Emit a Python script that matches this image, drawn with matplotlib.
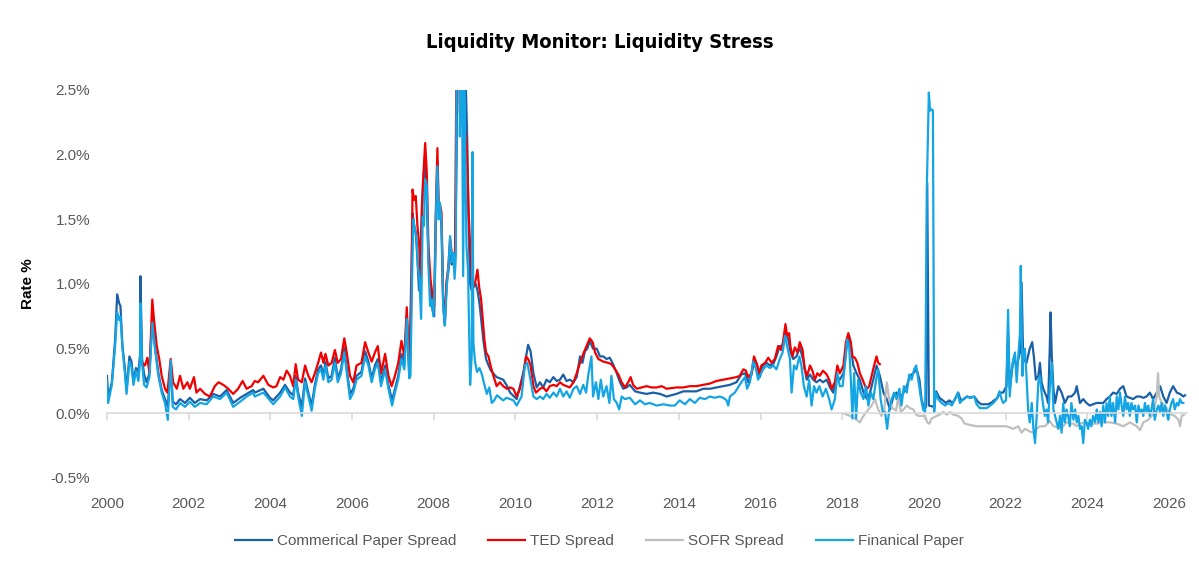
import matplotlib
matplotlib.use("Agg")
import matplotlib.pyplot as plt
from matplotlib import font_manager
import numpy as np

# (decimal year, spread %)
cp = [
    (2000.00, 0.29), (2000.03, 0.12), (2000.12, 0.24), (2000.20, 0.57), (2000.25, 0.92), (2000.30, 0.85),
    (2000.33, 0.83), (2000.38, 0.52), (2000.44, 0.34), (2000.48, 0.18), (2000.55, 0.44), (2000.60, 0.40),
    (2000.65, 0.25), (2000.71, 0.35), (2000.77, 0.32), (2000.81, 0.45), (2000.82, 1.06), (2000.86, 0.42),
    (2000.91, 0.30), (2000.97, 0.24), (2001.04, 0.31), (2001.11, 0.74), (2001.18, 0.50), (2001.26, 0.31),
    (2001.34, 0.18), (2001.42, 0.11), (2001.49, 0.05), (2001.56, 0.40), (2001.61, 0.09), (2001.69, 0.07),
    (2001.79, 0.11), (2001.91, 0.08), (2002.03, 0.12), (2002.15, 0.08), (2002.28, 0.11), (2002.44, 0.10),
    (2002.60, 0.15), (2002.77, 0.13), (2002.93, 0.18), (2003.09, 0.08), (2003.26, 0.12), (2003.42, 0.15),
    (2003.58, 0.18), (2003.62, 0.16), (2003.83, 0.19), (2003.99, 0.12), (2004.07, 0.10), (2004.24, 0.16),
    (2004.36, 0.22), (2004.48, 0.16), (2004.56, 0.14), (2004.62, 0.29), (2004.68, 0.16), (2004.77, 0.05),
    (2004.85, 0.27), (2004.93, 0.16), (2005.01, 0.06), (2005.09, 0.22), (2005.17, 0.34), (2005.24, 0.37),
    (2005.30, 0.29), (2005.35, 0.40), (2005.42, 0.27), (2005.50, 0.29), (2005.58, 0.43), (2005.65, 0.27),
    (2005.73, 0.34), (2005.81, 0.51), (2005.88, 0.32), (2005.95, 0.15), (2006.03, 0.19), (2006.11, 0.29),
    (2006.23, 0.32), (2006.32, 0.48), (2006.40, 0.40), (2006.48, 0.27), (2006.56, 0.37), (2006.63, 0.42),
    (2006.71, 0.24), (2006.81, 0.37), (2006.89, 0.22), (2006.98, 0.10), (2007.05, 0.19), (2007.13, 0.29),
    (2007.21, 0.46), (2007.28, 0.37), (2007.34, 0.76), (2007.40, 0.30), (2007.46, 1.20), (2007.48, 1.55),
    (2007.52, 1.45), (2007.56, 1.40), (2007.60, 1.20), (2007.64, 0.95), (2007.69, 1.40), (2007.73, 1.70),
    (2007.78, 1.98), (2007.82, 1.75), (2007.87, 1.20), (2007.92, 0.95), (2007.97, 0.80), (2008.01, 0.75),
    (2008.05, 1.45), (2008.09, 1.95), (2008.12, 1.55), (2008.16, 1.55), (2008.19, 1.45), (2008.23, 0.85),
    (2008.27, 0.68), (2008.31, 1.00), (2008.36, 1.10), (2008.40, 1.30), (2008.44, 1.15), (2008.48, 1.20),
    (2008.52, 1.10), (2008.56, 2.00), (2008.58, 3.00), (2008.62, 3.50), (2008.66, 2.80), (2008.70, 3.50),
    (2008.74, 3.00), (2008.78, 2.60), (2008.82, 2.10), (2008.85, 1.50), (2008.89, 1.00), (2008.93, 0.95),
    (2008.98, 0.98), (2009.03, 1.00), (2009.07, 0.95), (2009.12, 0.85), (2009.17, 0.70), (2009.22, 0.55),
    (2009.28, 0.42), (2009.33, 0.38), (2009.40, 0.33), (2009.48, 0.30), (2009.54, 0.28), (2009.62, 0.27),
    (2009.70, 0.26), (2009.78, 0.22), (2009.87, 0.16), (2010.03, 0.11), (2010.19, 0.31), (2010.31, 0.53),
    (2010.37, 0.48), (2010.44, 0.31), (2010.52, 0.20), (2010.60, 0.24), (2010.68, 0.20), (2010.76, 0.26),
    (2010.84, 0.24), (2010.93, 0.28), (2011.01, 0.25), (2011.09, 0.26), (2011.17, 0.30), (2011.25, 0.25),
    (2011.33, 0.26), (2011.42, 0.24), (2011.50, 0.28), (2011.58, 0.44), (2011.64, 0.39), (2011.70, 0.48),
    (2011.76, 0.50), (2011.82, 0.56), (2011.90, 0.50), (2011.99, 0.50), (2012.07, 0.44), (2012.15, 0.44),
    (2012.23, 0.42), (2012.31, 0.43), (2012.39, 0.38), (2012.48, 0.31), (2012.56, 0.24), (2012.64, 0.19),
    (2012.72, 0.20), (2012.80, 0.22), (2012.93, 0.17), (2013.05, 0.16), (2013.21, 0.15), (2013.37, 0.16),
    (2013.54, 0.15), (2013.70, 0.13), (2013.94, 0.15), (2014.11, 0.17), (2014.27, 0.17), (2014.43, 0.17),
    (2014.60, 0.19), (2014.76, 0.19), (2014.92, 0.20), (2015.09, 0.21), (2015.25, 0.22), (2015.41, 0.24),
    (2015.53, 0.30), (2015.62, 0.31), (2015.70, 0.24), (2015.78, 0.30), (2015.84, 0.42), (2015.92, 0.37),
    (2015.98, 0.28), (2016.06, 0.37), (2016.15, 0.39), (2016.23, 0.37), (2016.31, 0.38), (2016.39, 0.44),
    (2016.47, 0.52), (2016.55, 0.52), (2016.61, 0.63), (2016.68, 0.57), (2016.73, 0.48), (2016.80, 0.42),
    (2016.88, 0.44), (2016.96, 0.51), (2017.04, 0.42), (2017.13, 0.26), (2017.21, 0.30), (2017.29, 0.26),
    (2017.37, 0.24), (2017.45, 0.26), (2017.53, 0.24), (2017.62, 0.26), (2017.70, 0.20), (2017.78, 0.16),
    (2017.86, 0.29), (2017.94, 0.26), (2018.03, 0.31), (2018.11, 0.52), (2018.16, 0.60), (2018.21, 0.52),
    (2018.27, 0.37), (2018.35, 0.31), (2018.43, 0.26), (2018.52, 0.16), (2018.61, 0.11), (2018.68, 0.16),
    (2018.76, 0.26), (2018.84, 0.37), (2018.92, 0.29), (2019.01, 0.16), (2019.09, 0.11), (2019.17, 0.03),
    (2019.25, 0.13), (2019.33, 0.16), (2019.41, 0.11), (2019.50, 0.16), (2019.58, 0.21), (2019.66, 0.29),
    (2019.74, 0.31), (2019.82, 0.34), (2019.89, 0.26), (2019.94, 0.11), (2020.01, 0.03), (2020.05, 0.05),
    (2020.08, 1.78), (2020.12, 0.06), (2020.25, 0.05), (2020.30, 0.17), (2020.38, 0.12), (2020.46, 0.10),
    (2020.54, 0.08), (2020.62, 0.10), (2020.70, 0.08), (2020.78, 0.12), (2020.84, 0.16), (2020.90, 0.10),
    (2020.98, 0.11), (2021.06, 0.13), (2021.14, 0.12), (2021.23, 0.13), (2021.32, 0.09), (2021.40, 0.07),
    (2021.48, 0.07), (2021.56, 0.07), (2021.64, 0.08), (2021.72, 0.10), (2021.80, 0.12), (2021.86, 0.16),
    (2021.94, 0.16), (2022.02, 0.21), (2022.06, 0.62), (2022.10, 0.19), (2022.19, 0.42), (2022.27, 0.37),
    (2022.35, 0.47), (2022.39, 1.01), (2022.43, 0.42), (2022.51, 0.39), (2022.59, 0.50), (2022.65, 0.55),
    (2022.69, 0.44), (2022.74, 0.26), (2022.80, 0.29), (2022.84, 0.39), (2022.88, 0.24), (2022.92, 0.19),
    (2023.00, 0.13), (2023.04, 0.08), (2023.08, 0.50), (2023.10, 0.78), (2023.13, 0.44), (2023.17, 0.19),
    (2023.21, 0.08), (2023.29, 0.21), (2023.37, 0.16), (2023.45, 0.08), (2023.53, 0.13), (2023.61, 0.13),
    (2023.70, 0.16), (2023.74, 0.21), (2023.82, 0.08), (2023.90, 0.11), (2023.98, 0.08), (2024.06, 0.06),
    (2024.14, 0.07), (2024.23, 0.08), (2024.31, 0.08), (2024.39, 0.08), (2024.47, 0.11), (2024.55, 0.13),
    (2024.63, 0.16), (2024.72, 0.15), (2024.80, 0.19), (2024.88, 0.21), (2024.96, 0.13), (2025.04, 0.12),
    (2025.12, 0.11), (2025.21, 0.13), (2025.29, 0.13), (2025.37, 0.12), (2025.45, 0.13), (2025.53, 0.16),
    (2025.61, 0.11), (2025.70, 0.16), (2025.78, 0.21), (2025.86, 0.13), (2025.94, 0.08), (2026.02, 0.16),
    (2026.10, 0.21), (2026.19, 0.16), (2026.27, 0.15), (2026.35, 0.13), (2026.39, 0.14),
]

ted = [
    (2000.87, 0.39), (2000.93, 0.37), (2000.99, 0.43), (2001.04, 0.31), (2001.11, 0.88), (2001.15, 0.73),
    (2001.22, 0.52), (2001.28, 0.42), (2001.34, 0.29), (2001.42, 0.19), (2001.48, 0.16), (2001.56, 0.42),
    (2001.62, 0.24), (2001.71, 0.19), (2001.79, 0.29), (2001.87, 0.19), (2001.97, 0.24), (2002.03, 0.19),
    (2002.13, 0.28), (2002.19, 0.16), (2002.28, 0.19), (2002.40, 0.15), (2002.52, 0.13), (2002.64, 0.21),
    (2002.73, 0.24), (2002.85, 0.22), (2002.97, 0.19), (2003.09, 0.15), (2003.21, 0.19), (2003.32, 0.25),
    (2003.42, 0.19), (2003.54, 0.21), (2003.62, 0.25), (2003.70, 0.24), (2003.83, 0.29), (2003.95, 0.22),
    (2004.07, 0.20), (2004.15, 0.21), (2004.24, 0.28), (2004.32, 0.26), (2004.40, 0.33), (2004.48, 0.29),
    (2004.56, 0.21), (2004.62, 0.38), (2004.68, 0.26), (2004.77, 0.24), (2004.85, 0.37), (2004.93, 0.29),
    (2005.01, 0.24), (2005.09, 0.31), (2005.17, 0.39), (2005.24, 0.47), (2005.30, 0.39), (2005.35, 0.46),
    (2005.42, 0.37), (2005.50, 0.39), (2005.58, 0.49), (2005.65, 0.39), (2005.73, 0.42), (2005.81, 0.58),
    (2005.87, 0.47), (2005.95, 0.29), (2006.03, 0.24), (2006.11, 0.37), (2006.23, 0.39), (2006.32, 0.55),
    (2006.40, 0.47), (2006.48, 0.40), (2006.56, 0.47), (2006.63, 0.52), (2006.71, 0.31), (2006.81, 0.46),
    (2006.89, 0.29), (2006.97, 0.21), (2007.05, 0.29), (2007.13, 0.39), (2007.21, 0.56), (2007.28, 0.44),
    (2007.34, 0.82), (2007.39, 0.42), (2007.42, 0.39), (2007.46, 1.04), (2007.48, 1.73), (2007.52, 1.65),
    (2007.56, 1.68), (2007.60, 1.45), (2007.64, 1.32), (2007.68, 1.04), (2007.71, 1.60), (2007.74, 1.81),
    (2007.79, 2.09), (2007.83, 1.86), (2007.87, 1.29), (2007.92, 1.04), (2007.97, 0.91), (2008.01, 0.83),
    (2008.05, 1.55), (2008.09, 2.05), (2008.12, 1.60), (2008.15, 1.62), (2008.19, 1.55), (2008.23, 0.91),
    (2008.27, 0.70), (2008.32, 1.04), (2008.36, 1.14), (2008.40, 1.35), (2008.44, 1.24), (2008.48, 1.19),
    (2008.52, 1.24), (2008.56, 2.90), (2008.60, 3.30), (2008.64, 2.32), (2008.68, 3.50), (2008.72, 2.14),
    (2008.76, 2.22), (2008.81, 2.07), (2008.85, 1.60), (2008.89, 1.29), (2008.93, 1.04), (2008.99, 0.98),
    (2009.03, 1.04), (2009.07, 1.11), (2009.11, 0.98), (2009.16, 0.88), (2009.20, 0.73), (2009.24, 0.57),
    (2009.28, 0.47), (2009.34, 0.44), (2009.39, 0.37), (2009.46, 0.29), (2009.54, 0.21), (2009.62, 0.24),
    (2009.70, 0.21), (2009.79, 0.19), (2009.87, 0.20), (2009.95, 0.19), (2010.03, 0.13), (2010.11, 0.19),
    (2010.19, 0.29), (2010.26, 0.44), (2010.31, 0.42), (2010.37, 0.37), (2010.44, 0.21), (2010.50, 0.16),
    (2010.60, 0.19), (2010.68, 0.20), (2010.76, 0.17), (2010.84, 0.21), (2010.93, 0.22), (2011.01, 0.21),
    (2011.09, 0.24), (2011.17, 0.22), (2011.25, 0.21), (2011.33, 0.20), (2011.42, 0.24), (2011.50, 0.31),
    (2011.58, 0.39), (2011.66, 0.46), (2011.74, 0.52), (2011.82, 0.58), (2011.89, 0.55), (2011.95, 0.47),
    (2012.03, 0.42), (2012.15, 0.40), (2012.27, 0.39), (2012.35, 0.38), (2012.44, 0.34), (2012.52, 0.30),
    (2012.60, 0.24), (2012.68, 0.20), (2012.76, 0.24), (2012.82, 0.28), (2012.88, 0.22), (2012.97, 0.19),
    (2013.09, 0.20), (2013.21, 0.21), (2013.33, 0.20), (2013.46, 0.20), (2013.58, 0.21), (2013.70, 0.19),
    (2013.94, 0.20), (2014.11, 0.20), (2014.27, 0.21), (2014.43, 0.21), (2014.60, 0.22), (2014.76, 0.23),
    (2014.92, 0.25), (2015.09, 0.26), (2015.25, 0.27), (2015.41, 0.28), (2015.49, 0.29), (2015.58, 0.34),
    (2015.64, 0.33), (2015.70, 0.28), (2015.78, 0.31), (2015.84, 0.44), (2015.90, 0.39), (2015.97, 0.31),
    (2016.02, 0.37), (2016.11, 0.39), (2016.19, 0.43), (2016.27, 0.39), (2016.35, 0.42), (2016.43, 0.52),
    (2016.50, 0.49), (2016.55, 0.55), (2016.61, 0.69), (2016.65, 0.60), (2016.70, 0.62), (2016.73, 0.52),
    (2016.78, 0.44), (2016.84, 0.51), (2016.91, 0.47), (2016.96, 0.55), (2017.03, 0.49), (2017.08, 0.34),
    (2017.14, 0.29), (2017.21, 0.37), (2017.27, 0.33), (2017.33, 0.26), (2017.39, 0.31), (2017.45, 0.29),
    (2017.53, 0.33), (2017.62, 0.30), (2017.68, 0.26), (2017.74, 0.19), (2017.82, 0.24), (2017.88, 0.37),
    (2017.94, 0.31), (2018.03, 0.37), (2018.09, 0.55), (2018.15, 0.62), (2018.21, 0.55), (2018.25, 0.44),
    (2018.31, 0.43), (2018.37, 0.39), (2018.43, 0.31), (2018.50, 0.26), (2018.56, 0.21), (2018.61, 0.19),
    (2018.66, 0.21), (2018.72, 0.29), (2018.78, 0.37), (2018.84, 0.44), (2018.88, 0.39), (2018.92, 0.38),
]

sofr = [
    (2018.03, 0.00), (2018.19, -0.02), (2018.31, -0.04), (2018.43, -0.07), (2018.52, -0.02), (2018.64, 0.03),
    (2018.72, 0.06), (2018.80, 0.11), (2018.88, 0.03), (2018.96, -0.02), (2019.03, 0.03), (2019.09, 0.24),
    (2019.15, 0.11), (2019.23, 0.04), (2019.32, 0.02), (2019.37, 0.13), (2019.43, 0.01), (2019.50, 0.03),
    (2019.58, 0.06), (2019.66, 0.04), (2019.74, 0.03), (2019.81, -0.01), (2019.87, -0.02), (2019.94, -0.02),
    (2020.03, -0.02), (2020.08, -0.07), (2020.13, -0.08), (2020.19, -0.04), (2020.25, -0.03), (2020.31, -0.02),
    (2020.39, -0.01), (2020.47, 0.01), (2020.56, -0.01), (2020.64, 0.01), (2020.72, -0.01), (2020.84, -0.02),
    (2020.92, -0.04), (2021.00, -0.08), (2021.13, -0.09), (2021.29, -0.10), (2021.45, -0.10), (2021.62, -0.10),
    (2021.78, -0.10), (2021.86, -0.10), (2022.02, -0.10), (2022.19, -0.12), (2022.31, -0.10), (2022.39, -0.15),
    (2022.47, -0.12), (2022.59, -0.14), (2022.68, -0.15), (2022.76, -0.12), (2022.84, -0.10), (2022.96, -0.10),
    (2023.08, -0.06), (2023.17, -0.10), (2023.29, -0.11), (2023.41, -0.10), (2023.49, -0.07), (2023.57, -0.08),
    (2023.66, -0.08), (2023.74, -0.10), (2023.82, -0.08), (2023.94, -0.07), (2024.06, -0.08), (2024.23, -0.08),
    (2024.39, -0.07), (2024.55, -0.07), (2024.72, -0.08), (2024.88, -0.10), (2025.04, -0.07), (2025.21, -0.10),
    (2025.29, -0.13), (2025.37, -0.07), (2025.49, -0.05), (2025.61, -0.01), (2025.70, 0.13), (2025.73, 0.31),
    (2025.76, 0.13), (2025.82, 0.08), (2025.90, 0.06), (2025.98, 0.02), (2026.06, -0.01), (2026.14, -0.02),
    (2026.23, -0.05), (2026.27, -0.10), (2026.31, -0.02), (2026.37, -0.01),
]

fin = [
    (2000.00, 0.25), (2000.03, 0.08), (2000.12, 0.22), (2000.20, 0.52), (2000.25, 0.78), (2000.30, 0.72),
    (2000.33, 0.75), (2000.38, 0.50), (2000.44, 0.31), (2000.48, 0.15), (2000.55, 0.40), (2000.60, 0.36),
    (2000.65, 0.22), (2000.71, 0.33), (2000.77, 0.25), (2000.81, 0.40), (2000.82, 0.85), (2000.86, 0.38),
    (2000.91, 0.22), (2000.97, 0.20), (2001.04, 0.28), (2001.11, 0.70), (2001.18, 0.49), (2001.26, 0.29),
    (2001.34, 0.16), (2001.42, 0.08), (2001.49, -0.05), (2001.56, 0.41), (2001.61, 0.05), (2001.69, 0.03),
    (2001.79, 0.08), (2001.91, 0.05), (2002.03, 0.09), (2002.15, 0.05), (2002.28, 0.08), (2002.44, 0.07),
    (2002.60, 0.13), (2002.77, 0.11), (2002.93, 0.16), (2003.09, 0.05), (2003.26, 0.09), (2003.42, 0.13),
    (2003.58, 0.16), (2003.62, 0.13), (2003.83, 0.16), (2003.99, 0.10), (2004.07, 0.07), (2004.24, 0.13),
    (2004.36, 0.20), (2004.48, 0.13), (2004.56, 0.11), (2004.62, 0.26), (2004.68, 0.13), (2004.77, -0.02),
    (2004.85, 0.24), (2004.93, 0.13), (2005.01, 0.02), (2005.09, 0.19), (2005.17, 0.31), (2005.24, 0.34),
    (2005.30, 0.26), (2005.35, 0.37), (2005.42, 0.24), (2005.50, 0.26), (2005.58, 0.39), (2005.65, 0.24),
    (2005.73, 0.31), (2005.81, 0.47), (2005.88, 0.29), (2005.95, 0.11), (2006.03, 0.16), (2006.11, 0.26),
    (2006.23, 0.29), (2006.32, 0.44), (2006.40, 0.37), (2006.48, 0.24), (2006.56, 0.34), (2006.63, 0.39),
    (2006.71, 0.21), (2006.81, 0.34), (2006.89, 0.19), (2006.98, 0.06), (2007.05, 0.16), (2007.13, 0.26),
    (2007.21, 0.42), (2007.28, 0.34), (2007.34, 0.73), (2007.40, 0.27), (2007.43, 0.29), (2007.47, 1.04),
    (2007.50, 1.50), (2007.54, 1.42), (2007.58, 1.35), (2007.61, 1.14), (2007.65, 1.04), (2007.69, 0.73),
    (2007.73, 1.52), (2007.76, 1.45), (2007.79, 1.81), (2007.83, 1.76), (2007.87, 1.14), (2007.91, 0.83),
    (2007.95, 0.88), (2007.99, 0.75), (2008.03, 1.04), (2008.05, 1.50), (2008.09, 1.91), (2008.12, 1.50),
    (2008.15, 1.63), (2008.19, 1.47), (2008.23, 0.83), (2008.27, 0.68), (2008.32, 0.98), (2008.36, 1.14),
    (2008.40, 1.37), (2008.44, 1.17), (2008.48, 1.24), (2008.51, 1.04), (2008.54, 1.24), (2008.57, 3.50),
    (2008.62, 3.50), (2008.64, 2.14), (2008.68, 3.30), (2008.72, 1.06), (2008.75, 2.60), (2008.80, 1.30),
    (2008.84, 1.10), (2008.89, 0.22), (2008.93, 0.45), (2008.95, 2.02), (2008.97, 0.55), (2009.01, 0.40),
    (2009.06, 0.32), (2009.12, 0.35), (2009.18, 0.30), (2009.24, 0.22), (2009.30, 0.15), (2009.36, 0.20),
    (2009.42, 0.08), (2009.48, 0.10), (2009.55, 0.14), (2009.62, 0.12), (2009.70, 0.10), (2009.78, 0.12),
    (2009.87, 0.11), (2009.95, 0.10), (2010.03, 0.06), (2010.15, 0.13), (2010.23, 0.37), (2010.29, 0.39),
    (2010.35, 0.29), (2010.44, 0.13), (2010.52, 0.11), (2010.60, 0.13), (2010.68, 0.11), (2010.76, 0.15),
    (2010.84, 0.12), (2010.93, 0.16), (2011.01, 0.13), (2011.09, 0.19), (2011.17, 0.13), (2011.25, 0.17),
    (2011.33, 0.12), (2011.42, 0.19), (2011.50, 0.21), (2011.58, 0.15), (2011.66, 0.22), (2011.73, 0.16),
    (2011.78, 0.29), (2011.86, 0.44), (2011.90, 0.13), (2011.97, 0.24), (2012.03, 0.11), (2012.09, 0.26),
    (2012.15, 0.13), (2012.23, 0.21), (2012.30, 0.08), (2012.35, 0.29), (2012.41, 0.11), (2012.48, 0.08),
    (2012.54, 0.03), (2012.60, 0.13), (2012.68, 0.11), (2012.80, 0.12), (2012.93, 0.07), (2013.05, 0.10),
    (2013.17, 0.07), (2013.29, 0.08), (2013.46, 0.06), (2013.62, 0.07), (2013.78, 0.06), (2013.90, 0.06),
    (2014.02, 0.10), (2014.15, 0.07), (2014.27, 0.11), (2014.39, 0.08), (2014.51, 0.12), (2014.64, 0.11),
    (2014.76, 0.13), (2014.88, 0.12), (2015.00, 0.13), (2015.09, 0.12), (2015.17, 0.10), (2015.21, 0.06),
    (2015.25, 0.13), (2015.37, 0.16), (2015.45, 0.20), (2015.53, 0.24), (2015.62, 0.28), (2015.67, 0.19),
    (2015.74, 0.24), (2015.82, 0.40), (2015.89, 0.34), (2015.94, 0.26), (2016.00, 0.30), (2016.06, 0.34),
    (2016.15, 0.37), (2016.23, 0.35), (2016.31, 0.37), (2016.39, 0.34), (2016.47, 0.42), (2016.54, 0.47),
    (2016.60, 0.60), (2016.65, 0.52), (2016.72, 0.42), (2016.76, 0.16), (2016.82, 0.37), (2016.88, 0.34),
    (2016.95, 0.44), (2017.00, 0.37), (2017.06, 0.21), (2017.13, 0.13), (2017.19, 0.26), (2017.25, 0.06),
    (2017.31, 0.21), (2017.37, 0.16), (2017.44, 0.21), (2017.52, 0.13), (2017.60, 0.19), (2017.68, 0.11),
    (2017.74, 0.03), (2017.82, 0.11), (2017.88, 0.31), (2017.94, 0.21), (2018.01, 0.21), (2018.07, 0.39),
    (2018.12, 0.57), (2018.17, 0.52), (2018.21, 0.26), (2018.25, -0.04), (2018.29, 0.31), (2018.34, -0.04),
    (2018.39, 0.26), (2018.45, 0.16), (2018.52, 0.11), (2018.58, 0.21), (2018.64, 0.06), (2018.70, 0.16),
    (2018.76, 0.11), (2018.83, 0.26), (2018.88, 0.34), (2018.94, 0.11), (2018.99, 0.01), (2019.05, 0.01),
    (2019.10, -0.12), (2019.15, 0.03), (2019.21, 0.11), (2019.27, 0.16), (2019.33, 0.11), (2019.40, 0.19),
    (2019.45, 0.06), (2019.51, 0.21), (2019.58, 0.16), (2019.64, 0.30), (2019.70, 0.26), (2019.76, 0.34),
    (2019.81, 0.37), (2019.86, 0.26), (2019.92, 0.13), (2019.98, 0.03), (2020.03, 0.01), (2020.07, 1.73),
    (2020.12, 2.48), (2020.15, 2.34), (2020.19, 2.35), (2020.22, 2.34), (2020.25, 0.01), (2020.29, 0.16),
    (2020.35, 0.11), (2020.43, 0.08), (2020.52, 0.06), (2020.60, 0.08), (2020.68, 0.06), (2020.76, 0.11),
    (2020.83, 0.16), (2020.88, 0.08), (2020.96, 0.11), (2021.05, 0.13), (2021.13, 0.12), (2021.23, 0.13),
    (2021.29, 0.07), (2021.37, 0.04), (2021.45, 0.04), (2021.54, 0.04), (2021.62, 0.06), (2021.70, 0.08),
    (2021.78, 0.11), (2021.85, 0.17), (2021.90, 0.11), (2021.94, 0.08), (2022.01, 0.10), (2022.06, 0.80),
    (2022.10, 0.13), (2022.15, 0.34), (2022.19, 0.42), (2022.23, 0.47), (2022.27, 0.24), (2022.31, 0.44),
    (2022.35, 0.62), (2022.37, 1.14), (2022.41, 0.29), (2022.43, 0.47), (2022.47, 0.50), (2022.51, 0.29),
    (2022.55, 0.03), (2022.59, -0.07), (2022.64, 0.08), (2022.68, -0.12), (2022.72, -0.23), (2022.76, -0.02),
    (2022.80, 0.24), (2022.84, 0.29), (2022.88, 0.16), (2022.92, 0.06), (2022.96, -0.02), (2023.00, 0.03),
    (2023.04, -0.07), (2023.08, 0.19), (2023.13, 0.39), (2023.17, 0.03), (2023.21, -0.02), (2023.25, -0.07),
    (2023.29, -0.12), (2023.33, -0.02), (2023.37, -0.15), (2023.41, 0.08), (2023.45, -0.07), (2023.49, 0.03),
    (2023.53, -0.02), (2023.57, -0.10), (2023.61, 0.08), (2023.66, -0.05), (2023.70, 0.03), (2023.74, -0.07),
    (2023.78, -0.02), (2023.82, -0.12), (2023.86, -0.10), (2023.90, -0.23), (2023.94, -0.05), (2023.98, -0.07),
    (2024.02, -0.12), (2024.06, -0.05), (2024.10, -0.10), (2024.14, -0.02), (2024.19, -0.07), (2024.23, 0.03),
    (2024.27, -0.07), (2024.31, 0.01), (2024.35, -0.10), (2024.39, 0.06), (2024.43, -0.07), (2024.47, 0.08),
    (2024.51, -0.02), (2024.55, 0.13), (2024.59, -0.02), (2024.63, 0.08), (2024.68, -0.07), (2024.72, 0.13),
    (2024.76, 0.03), (2024.80, 0.16), (2024.84, 0.06), (2024.88, -0.02), (2024.92, 0.13), (2024.96, 0.03),
    (2025.00, 0.08), (2025.04, -0.02), (2025.08, 0.08), (2025.12, 0.03), (2025.17, 0.06), (2025.21, -0.07),
    (2025.25, 0.06), (2025.29, 0.01), (2025.33, 0.03), (2025.37, -0.02), (2025.41, 0.08), (2025.45, 0.01),
    (2025.49, 0.06), (2025.53, -0.02), (2025.57, 0.03), (2025.61, 0.11), (2025.65, -0.05), (2025.70, 0.03),
    (2025.74, 0.06), (2025.78, 0.01), (2025.82, 0.08), (2025.86, -0.02), (2025.90, 0.06), (2025.94, 0.01),
    (2025.98, -0.05), (2026.02, 0.03), (2026.06, 0.08), (2026.10, 0.11), (2026.14, 0.03), (2026.19, 0.08),
    (2026.23, 0.06), (2026.27, 0.11), (2026.31, 0.08), (2026.35, 0.08),
]

series = [
    ("Commerical Paper Spread", cp, "#1B5FA6"),
    ("TED Spread", ted, "#F20000"),
    ("SOFR Spread", sofr, "#BFBFBF"),
    ("Finanical Paper", fin, "#14A5E4"),
]

GRAY = "#595959"
plt.rcParams["font.family"] = ["Liberation Sans", "DejaVu Sans"]

# pick a narrow/condensed face for the title if one is installed
title_font = None
for f in font_manager.fontManager.ttflist:
    if "Narrow" in f.name or "Condensed" in f.name or f.stretch in ("condensed", "semi-condensed"):
        title_font = f
        if "bold" in str(f.weight).lower() or (isinstance(f.weight, int) and f.weight >= 700):
            break
if title_font is not None:
    title_kw = dict(family=title_font.name, fontstretch=title_font.stretch, fontsize=14.5)
else:
    title_kw = dict(family="DejaVu Sans", fontsize=13)

fig = plt.figure(figsize=(11.99, 5.63), dpi=100)
ax = fig.add_axes([0.0892, 0.151, 0.9008, 0.6892])

for name, pts, color in series:
    x, y = zip(*pts)
    ax.plot(x, y, color=color, lw=1.6, label=name, solid_joinstyle="round")

ax.set_xlim(2000, 2026.44)
ax.set_ylim(-0.5, 2.5)

# y axis: labels only
yt = np.arange(-0.5, 2.51, 0.5)
ax.set_yticks(yt)
ax.set_yticklabels([f"{v:.1f}%" for v in yt])
ax.tick_params(axis="y", length=0, pad=12, labelsize=11, labelcolor=GRAY)
ax.set_ylabel("Rate %", fontsize=11, fontweight="bold", color="black")
ax.yaxis.set_label_coords(-0.067, 0.5)

# x axis line sits on zero, labels sit at the bottom
for s in ["top", "right", "left"]:
    ax.spines[s].set_visible(False)
ax.spines["bottom"].set_position(("data", 0))
ax.spines["bottom"].set_color("#D9D9D9")
ax.spines["bottom"].set_linewidth(1.2)
years = np.arange(2000, 2027, 2)
ax.set_xticks(years)
ax.tick_params(axis="x", length=5, width=1.2, color="#D9D9D9", labelbottom=False)
ax.set_axisbelow(True)

sec = ax.secondary_xaxis("bottom")
sec.set_xticks(years)
sec.set_xticklabels([str(y) for y in years])
sec.tick_params(length=0, pad=14, labelsize=11, labelcolor=GRAY)
sec.spines["bottom"].set_visible(False)

fig.text(0.5, 0.925, "Liquidity Monitor: Liquidity Stress", ha="center", va="center",
         fontweight="bold", **title_kw)

leg = fig.legend(loc="center", bbox_to_anchor=(0.5, 0.039), ncol=4, frameon=False,
                 fontsize=11, handlelength=2.4, handletextpad=0.35, columnspacing=2.1)
for t in leg.get_texts():
    t.set_color(GRAY)

fig.savefig("out.png", dpi=100)
